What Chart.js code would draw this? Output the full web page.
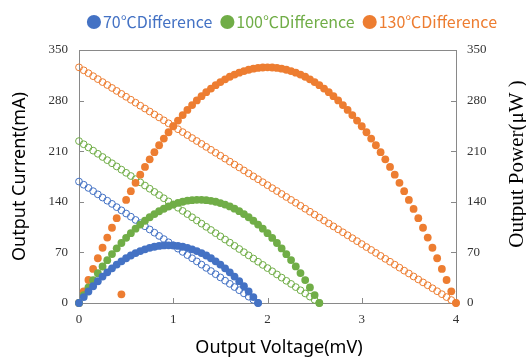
<!DOCTYPE html>
<html>
<head>
<meta charset="utf-8">
<script src="https://cdn.jsdelivr.net/npm/chart.js@4.4.0/dist/chart.umd.min.js"></script>
<style>
  body { margin: 0; background: #fff; }
  #wrap { position: relative; width: 526px; height: 357px; }
</style>
</head>
<body>
<div id="wrap"><canvas id="chart"></canvas></div>
<script>
// voltage steps (mV), shared by every series
const voltage = [0,0.05,0.1,0.15,0.2,0.25,0.3,0.35,0.4,0.45,0.5,0.55,0.6,0.65,0.7,0.75,0.8,0.85,0.9,0.95,
  1,1.05,1.1,1.15,1.2,1.25,1.3,1.35,1.4,1.45,1.5,1.55,1.6,1.65,1.7,1.75,1.8,1.85,1.9,1.95,
  2,2.05,2.1,2.15,2.2,2.25,2.3,2.35,2.4,2.45,2.5,2.55,2.6,2.65,2.7,2.75,2.8,2.85,2.9,2.95,
  3,3.05,3.1,3.15,3.2,3.25,3.3,3.35,3.4,3.45,3.5,3.55,3.6,3.65,3.7,3.75,3.8,3.85,3.9,3.95,4];

const seriesNames = ["70℃Difference", "100℃Difference", "130℃Difference"];
const seriesColors = ["#4472C4", "#70AD47", "#ED7D31"];

// output current (mA)
const current70 = [168.0,163.6,159.2,154.7,150.3,145.9,141.5,137.1,132.6,128.2,123.8,119.4,114.9,110.5,106.1,101.7,97.3,92.8,88.4,84.0,
  79.6,75.2,70.7,66.3,61.9,57.5,53.1,48.6,44.2,39.8,35.4,30.9,26.5,22.1,17.7,13.3,8.8,4.4,0];
const current100 = [224.0,219.6,215.2,210.8,206.4,202.0,197.6,193.3,188.9,184.5,180.1,175.7,171.3,166.9,162.5,158.1,153.7,149.3,144.9,140.5,
  136.2,131.8,127.4,123.0,118.6,114.2,109.8,105.4,101.0,96.6,92.2,87.8,83.5,79.1,74.7,70.3,65.9,61.5,57.1,52.7,
  48.3,43.9,39.5,35.1,30.7,26.4,22.0,17.6,13.2,8.8,4.4,0];
const current130 = [326.0,321.9,317.9,313.8,309.7,305.6,301.6,297.5,293.4,289.3,285.3,281.2,277.1,273.0,269.0,264.9,260.8,256.7,252.7,248.6,
  244.5,240.4,236.4,232.3,228.2,224.1,220.1,216.0,211.9,207.8,203.8,199.7,195.6,191.5,187.5,183.4,179.3,175.2,171.2,167.1,
  163.0,158.9,154.9,150.8,146.7,142.6,138.6,134.5,130.4,126.3,122.3,118.2,114.1,110.0,106.0,101.9,97.8,93.7,89.7,85.6,
  81.5,77.4,73.4,69.3,65.2,61.1,57.1,53.0,48.9,44.8,40.8,36.7,32.6,28.5,24.5,20.4,16.3,12.2,8.2,4.1,0];

// output power (uW)
const power70 = [0,8.2,15.9,23.2,30.1,36.5,42.4,48.0,53.1,57.7,61.9,65.7,69.0,71.8,74.3,76.3,77.8,78.9,79.6,79.8,
  79.6,78.9,77.8,76.3,74.3,71.8,69.0,65.7,61.9,57.7,53.1,48.0,42.4,36.5,30.1,23.2,15.9,8.2,0];
const power100 = [0,11.0,21.5,31.6,41.3,50.5,59.3,67.7,75.6,83.0,90.1,96.6,102.8,108.5,113.8,118.6,123.0,126.9,130.4,133.5,
  136.2,138.4,140.1,141.5,142.3,142.8,142.7,142.3,141.4,140.1,138.3,136.1,133.6,130.5,127.0,123.0,118.6,113.8,108.5,102.8,
  96.6,90.0,83.0,75.5,67.5,59.4,50.6,41.4,31.7,21.6,11.0,0];
const power130 = [0,16.1,31.8,47.1,61.9,76.4,90.5,104.1,117.4,12,142.6,154.7,166.3,177.5,188.3,198.7,208.6,218.2,227.4,236.2,
  244.5,252.4,260.0,267.1,273.8,280.2,286.1,291.6,296.7,301.3,305.6,309.5,313.0,316.0,318.7,320.9,322.7,324.2,325.2,325.8,
  326.0,325.8,325.2,324.2,322.7,320.9,318.7,316.0,313.0,309.5,305.6,301.3,296.7,291.6,286.1,280.2,273.8,267.1,260.0,252.4,
  244.5,236.2,227.4,218.2,208.6,198.7,188.3,177.5,166.3,154.7,142.6,130.2,117.4,104.1,90.5,76.4,61.9,47.1,31.8,16.1,0];

const axisTicks = [0, 70, 140, 210, 280, 350];
const voltageTicks = [0, 1, 2, 3, 4];

const currents = [current70, current100, current130];
const powers = [power70, power100, power130];

function points(values) {
  return values.map((v, i) => ({ x: voltage[i], y: v }));
}

const datasets = [];
powers.forEach((p, i) => {
  datasets.push({
    label: seriesNames[i],
    data: points(p),
    yAxisID: "y2",
    backgroundColor: seriesColors[i],
    borderColor: seriesColors[i],
    pointRadius: 3.9,
    pointBorderWidth: 0,
    clip: false
  });
});
currents.forEach((c, i) => {
  datasets.push({
    label: seriesNames[i] + " current",
    data: points(c),
    yAxisID: "y",
    backgroundColor: "rgba(0,0,0,0)",
    borderColor: seriesColors[i],
    pointRadius: 3.4,
    pointBorderWidth: 1,
    clip: false
  });
});

const frameColor = "#898989";
const serif = "'Liberation Serif', 'Times New Roman', serif";

// plot box, inward tick marks and the two hand-placed titles
const framePlugin = {
  id: "frame",
  beforeDatasetsDraw(chart) {
    const { ctx, chartArea: a, scales } = chart;
    ctx.save();
    ctx.strokeStyle = frameColor;
    ctx.lineWidth = 1;
    ctx.strokeRect(Math.round(a.left) + 0.5, Math.round(a.top) + 0.5,
      Math.round(a.right - a.left), Math.round(a.bottom - a.top));
    ctx.beginPath();
    voltageTicks.forEach(v => {
      const px = Math.round(scales.x.getPixelForValue(v)) + 0.5;
      ctx.moveTo(px, a.bottom);
      ctx.lineTo(px, a.bottom - 5);
    });
    axisTicks.forEach(v => {
      const py = Math.round(scales.y.getPixelForValue(v)) + 0.5;
      ctx.moveTo(a.left, py);
      ctx.lineTo(a.left + 5, py);
      ctx.moveTo(a.right, py);
      ctx.lineTo(a.right - 5, py);
    });
    ctx.stroke();
    ctx.restore();
  },
  afterDraw(chart) {
    const { ctx } = chart;
    ctx.save();
    ctx.fillStyle = "#000";
    ctx.textAlign = "center";
    ctx.textBaseline = "middle";
    ctx.font = "18px 'Noto Sans'";
    ctx.fillText("Output Voltage(mV)", 279, 348);
    ctx.translate(517, 164);
    ctx.rotate(-Math.PI / 2);
    ctx.font = "21px " + serif;
    ctx.fillText("Output Power(μW )", 0, 0);
    ctx.restore();
  }
};

const valueTicks = {
  min: 0, max: 350,
  afterBuildTicks: s => { s.ticks = axisTicks.map(v => ({ value: v })); }
};

new Chart(document.getElementById("chart"), {
  type: "scatter",
  data: { datasets },
  options: {
    responsive: true,
    maintainAspectRatio: false,
    animation: false,
    layout: { padding: { top: 0, right: 15, bottom: 0, left: 0 } },
    plugins: {
      tooltip: { enabled: false },
      // empty spacer between the legend and the plot
      subtitle: {
        display: true, text: "", weight: 500,
        font: { size: 1, lineHeight: 1 },
        padding: { top: 0, bottom: 9 }
      },
      legend: {
        position: "top",
        align: "end",
        labels: {
          usePointStyle: true,
          boxWidth: 2,
          boxHeight: 10,
          padding: 14,
          font: { family: "'Noto Sans CJK JP'", size: 16 },
          generateLabels: chart => chart.data.datasets.slice(0, 3).map((ds, i) => ({
            text: ds.label,
            fillStyle: ds.backgroundColor,
            strokeStyle: ds.backgroundColor,
            fontColor: ds.backgroundColor,
            lineWidth: 0,
            pointStyle: "circle",
            hidden: false,
            datasetIndex: i
          }))
        }
      }
    },
    scales: {
      x: {
        type: "linear",
        min: 0, max: 4,
        afterBuildTicks: s => { s.ticks = voltageTicks.map(v => ({ value: v })); },
        afterFit: s => { s.height = 54; },
        grid: { drawOnChartArea: false, drawTicks: false },
        border: { display: false },
        ticks: { padding: 9, color: "#333", font: { family: serif, size: 13 } }
      },
      y: {
        position: "left",
        ...valueTicks,
        afterFit: s => { s.width = 79; },
        grid: { drawOnChartArea: false, drawTicks: false },
        border: { display: false },
        ticks: { padding: 11, color: "#333", font: { family: serif, size: 13 } },
        title: {
          display: true, text: "Output Current(mA)", color: "#000",
          font: { family: "'Noto Sans'", size: 18, lineHeight: 1 },
          padding: { top: 11, bottom: 0 }
        }
      },
      y2: {
        position: "right",
        ...valueTicks,
        afterFit: s => { s.width = 55; },
        grid: { drawOnChartArea: false, drawTicks: false },
        border: { display: false },
        ticks: { padding: 11, color: "#333", font: { family: serif, size: 13 } }
      }
    }
  },
  plugins: [framePlugin]
});
</script>
</body>
</html>
